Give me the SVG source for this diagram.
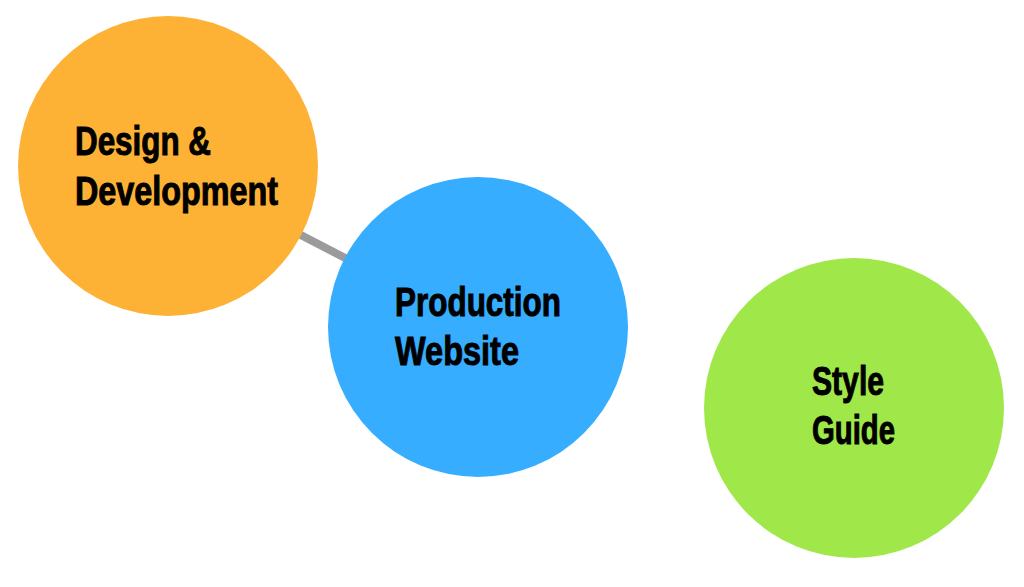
<svg xmlns="http://www.w3.org/2000/svg" width="1024" height="587" viewBox="0 0 1024 587">
<style>
.lbl{font-family:"Liberation Sans",Arial,sans-serif;font-weight:bold;font-size:40px;fill:#000;stroke:#000;stroke-width:1}
.edge{stroke:#9b9b9b;stroke-width:8;fill:none}
</style>
<rect width="1024" height="587" fill="#fff"/>
<g id="connectors">
<line class="edge" x1="168" y1="166" x2="478" y2="327"/>
</g>
<g id="design">
<circle cx="168" cy="166" r="150" fill="#fdb235"/>
<text class="lbl" x="75" y="155" textLength="136" lengthAdjust="spacingAndGlyphs">Design &amp;</text>
<text class="lbl" x="75" y="205" textLength="203" lengthAdjust="spacingAndGlyphs">Development</text>
</g>
<g id="production">
<circle cx="478" cy="327" r="150" fill="#36adff"/>
<text class="lbl" x="395" y="316" textLength="166" lengthAdjust="spacingAndGlyphs">Production</text>
<text class="lbl" x="395" y="365" textLength="124" lengthAdjust="spacingAndGlyphs">Website</text>
</g>
<g id="style">
<circle cx="854" cy="408" r="150" fill="#a0e84a"/>
<text class="lbl" x="812" y="395" textLength="72" lengthAdjust="spacingAndGlyphs">Style</text>
<text class="lbl" x="812" y="444" textLength="83" lengthAdjust="spacingAndGlyphs">Guide</text>
</g>
</svg>
